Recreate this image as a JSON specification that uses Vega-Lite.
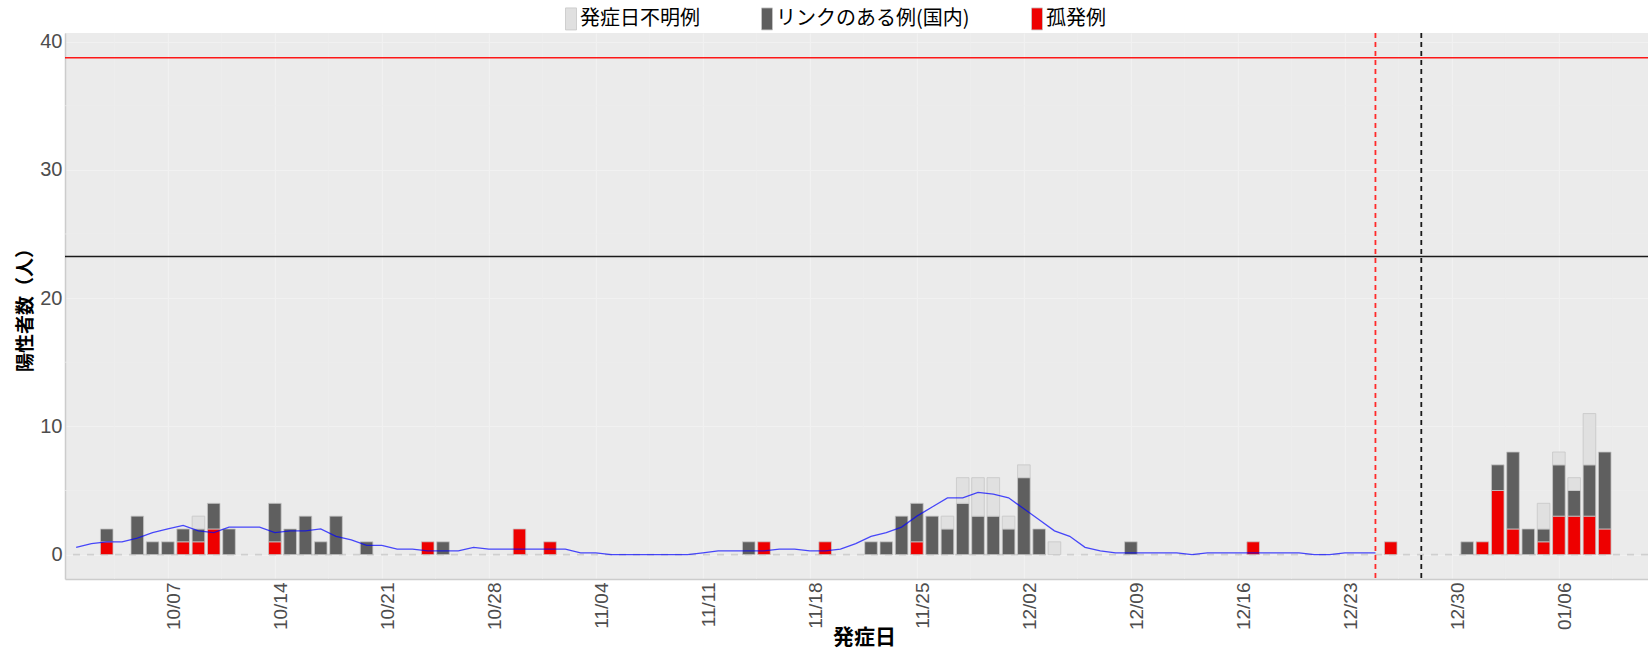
{
  "$schema": "https://vega.github.io/schema/vega-lite/v6.json",
  "width": 1583,
  "height": 546,
  "autosize": {"type": "none"},
  "padding": {"left": 65, "top": 33, "right": 0, "bottom": 70},
  "background": "white",
  "config": {
    "view": {"fill": "#ebebeb", "stroke": null},
    "axis": {
      "labelFont": "Liberation Sans",
      "labelColor": "#4d4d4d",
      "titleFont": "Noto Sans CJK JP",
      "titleColor": "#000000",
      "titleFontWeight": "bold",
      "domainColor": "#cccccc",
      "domainWidth": 1.5,
      "ticks": false,
      "tickSize": 0,
      "gridColor": "#f1f1f1",
      "gridWidth": 1.1,
      "labelOverlap": false
    }
  },
  "datasets": {
    "bars": [
      {"d": "2020-10-03", "c": "孤発例", "n": 1, "o": 1},
      {"d": "2020-10-03", "c": "リンクのある例(国内)", "n": 1, "o": 2},
      {"d": "2020-10-05", "c": "リンクのある例(国内)", "n": 3, "o": 2},
      {"d": "2020-10-06", "c": "リンクのある例(国内)", "n": 1, "o": 2},
      {"d": "2020-10-07", "c": "リンクのある例(国内)", "n": 1, "o": 2},
      {"d": "2020-10-08", "c": "孤発例", "n": 1, "o": 1},
      {"d": "2020-10-08", "c": "リンクのある例(国内)", "n": 1, "o": 2},
      {"d": "2020-10-09", "c": "孤発例", "n": 1, "o": 1},
      {"d": "2020-10-09", "c": "リンクのある例(国内)", "n": 1, "o": 2},
      {"d": "2020-10-09", "c": "発症日不明例", "n": 1, "o": 3},
      {"d": "2020-10-10", "c": "孤発例", "n": 2, "o": 1},
      {"d": "2020-10-10", "c": "リンクのある例(国内)", "n": 2, "o": 2},
      {"d": "2020-10-11", "c": "リンクのある例(国内)", "n": 2, "o": 2},
      {"d": "2020-10-14", "c": "孤発例", "n": 1, "o": 1},
      {"d": "2020-10-14", "c": "リンクのある例(国内)", "n": 3, "o": 2},
      {"d": "2020-10-15", "c": "リンクのある例(国内)", "n": 2, "o": 2},
      {"d": "2020-10-16", "c": "リンクのある例(国内)", "n": 3, "o": 2},
      {"d": "2020-10-17", "c": "リンクのある例(国内)", "n": 1, "o": 2},
      {"d": "2020-10-18", "c": "リンクのある例(国内)", "n": 3, "o": 2},
      {"d": "2020-10-20", "c": "リンクのある例(国内)", "n": 1, "o": 2},
      {"d": "2020-10-24", "c": "孤発例", "n": 1, "o": 1},
      {"d": "2020-10-25", "c": "リンクのある例(国内)", "n": 1, "o": 2},
      {"d": "2020-10-30", "c": "孤発例", "n": 2, "o": 1},
      {"d": "2020-11-01", "c": "孤発例", "n": 1, "o": 1},
      {"d": "2020-11-14", "c": "リンクのある例(国内)", "n": 1, "o": 2},
      {"d": "2020-11-15", "c": "孤発例", "n": 1, "o": 1},
      {"d": "2020-11-19", "c": "孤発例", "n": 1, "o": 1},
      {"d": "2020-11-22", "c": "リンクのある例(国内)", "n": 1, "o": 2},
      {"d": "2020-11-23", "c": "リンクのある例(国内)", "n": 1, "o": 2},
      {"d": "2020-11-24", "c": "リンクのある例(国内)", "n": 3, "o": 2},
      {"d": "2020-11-25", "c": "孤発例", "n": 1, "o": 1},
      {"d": "2020-11-25", "c": "リンクのある例(国内)", "n": 3, "o": 2},
      {"d": "2020-11-26", "c": "リンクのある例(国内)", "n": 3, "o": 2},
      {"d": "2020-11-27", "c": "リンクのある例(国内)", "n": 2, "o": 2},
      {"d": "2020-11-27", "c": "発症日不明例", "n": 1, "o": 3},
      {"d": "2020-11-28", "c": "リンクのある例(国内)", "n": 4, "o": 2},
      {"d": "2020-11-28", "c": "発症日不明例", "n": 2, "o": 3},
      {"d": "2020-11-29", "c": "リンクのある例(国内)", "n": 3, "o": 2},
      {"d": "2020-11-29", "c": "発症日不明例", "n": 3, "o": 3},
      {"d": "2020-11-30", "c": "リンクのある例(国内)", "n": 3, "o": 2},
      {"d": "2020-11-30", "c": "発症日不明例", "n": 3, "o": 3},
      {"d": "2020-12-01", "c": "リンクのある例(国内)", "n": 2, "o": 2},
      {"d": "2020-12-01", "c": "発症日不明例", "n": 1, "o": 3},
      {"d": "2020-12-02", "c": "リンクのある例(国内)", "n": 6, "o": 2},
      {"d": "2020-12-02", "c": "発症日不明例", "n": 1, "o": 3},
      {"d": "2020-12-03", "c": "リンクのある例(国内)", "n": 2, "o": 2},
      {"d": "2020-12-04", "c": "発症日不明例", "n": 1, "o": 3},
      {"d": "2020-12-09", "c": "リンクのある例(国内)", "n": 1, "o": 2},
      {"d": "2020-12-17", "c": "孤発例", "n": 1, "o": 1},
      {"d": "2020-12-26", "c": "孤発例", "n": 1, "o": 1},
      {"d": "2020-12-31", "c": "リンクのある例(国内)", "n": 1, "o": 2},
      {"d": "2021-01-01", "c": "孤発例", "n": 1, "o": 1},
      {"d": "2021-01-02", "c": "孤発例", "n": 5, "o": 1},
      {"d": "2021-01-02", "c": "リンクのある例(国内)", "n": 2, "o": 2},
      {"d": "2021-01-03", "c": "孤発例", "n": 2, "o": 1},
      {"d": "2021-01-03", "c": "リンクのある例(国内)", "n": 6, "o": 2},
      {"d": "2021-01-04", "c": "リンクのある例(国内)", "n": 2, "o": 2},
      {"d": "2021-01-05", "c": "孤発例", "n": 1, "o": 1},
      {"d": "2021-01-05", "c": "リンクのある例(国内)", "n": 1, "o": 2},
      {"d": "2021-01-05", "c": "発症日不明例", "n": 2, "o": 3},
      {"d": "2021-01-06", "c": "孤発例", "n": 3, "o": 1},
      {"d": "2021-01-06", "c": "リンクのある例(国内)", "n": 4, "o": 2},
      {"d": "2021-01-06", "c": "発症日不明例", "n": 1, "o": 3},
      {"d": "2021-01-07", "c": "孤発例", "n": 3, "o": 1},
      {"d": "2021-01-07", "c": "リンクのある例(国内)", "n": 2, "o": 2},
      {"d": "2021-01-07", "c": "発症日不明例", "n": 1, "o": 3},
      {"d": "2021-01-08", "c": "孤発例", "n": 3, "o": 1},
      {"d": "2021-01-08", "c": "リンクのある例(国内)", "n": 4, "o": 2},
      {"d": "2021-01-08", "c": "発症日不明例", "n": 4, "o": 3},
      {"d": "2021-01-09", "c": "孤発例", "n": 2, "o": 1},
      {"d": "2021-01-09", "c": "リンクのある例(国内)", "n": 6, "o": 2}
    ],
    "avg": [
      {"d": "2020-10-01", "a": 0.571}, {"d": "2020-10-02", "a": 0.857}, {"d": "2020-10-03", "a": 1.0},
      {"d": "2020-10-04", "a": 1.0}, {"d": "2020-10-05", "a": 1.286}, {"d": "2020-10-06", "a": 1.714},
      {"d": "2020-10-07", "a": 2.0}, {"d": "2020-10-08", "a": 2.286}, {"d": "2020-10-09", "a": 1.857},
      {"d": "2020-10-10", "a": 1.714}, {"d": "2020-10-11", "a": 2.143}, {"d": "2020-10-12", "a": 2.143},
      {"d": "2020-10-13", "a": 2.143}, {"d": "2020-10-14", "a": 1.714}, {"d": "2020-10-15", "a": 1.857},
      {"d": "2020-10-16", "a": 1.857}, {"d": "2020-10-17", "a": 2.0}, {"d": "2020-10-18", "a": 1.429},
      {"d": "2020-10-19", "a": 1.143}, {"d": "2020-10-20", "a": 0.714}, {"d": "2020-10-21", "a": 0.714},
      {"d": "2020-10-22", "a": 0.429}, {"d": "2020-10-23", "a": 0.429}, {"d": "2020-10-24", "a": 0.286},
      {"d": "2020-10-25", "a": 0.286}, {"d": "2020-10-26", "a": 0.286}, {"d": "2020-10-27", "a": 0.571},
      {"d": "2020-10-28", "a": 0.429}, {"d": "2020-10-29", "a": 0.429}, {"d": "2020-10-30", "a": 0.429},
      {"d": "2020-10-31", "a": 0.429}, {"d": "2020-11-01", "a": 0.429}, {"d": "2020-11-02", "a": 0.429},
      {"d": "2020-11-03", "a": 0.143}, {"d": "2020-11-04", "a": 0.143}, {"d": "2020-11-05", "a": 0},
      {"d": "2020-11-06", "a": 0}, {"d": "2020-11-07", "a": 0}, {"d": "2020-11-08", "a": 0},
      {"d": "2020-11-09", "a": 0}, {"d": "2020-11-10", "a": 0}, {"d": "2020-11-11", "a": 0.143},
      {"d": "2020-11-12", "a": 0.286}, {"d": "2020-11-13", "a": 0.286}, {"d": "2020-11-14", "a": 0.286},
      {"d": "2020-11-15", "a": 0.286}, {"d": "2020-11-16", "a": 0.429}, {"d": "2020-11-17", "a": 0.429},
      {"d": "2020-11-18", "a": 0.286}, {"d": "2020-11-19", "a": 0.286}, {"d": "2020-11-20", "a": 0.429},
      {"d": "2020-11-21", "a": 0.857}, {"d": "2020-11-22", "a": 1.429}, {"d": "2020-11-23", "a": 1.714},
      {"d": "2020-11-24", "a": 2.143}, {"d": "2020-11-25", "a": 3.0}, {"d": "2020-11-26", "a": 3.714},
      {"d": "2020-11-27", "a": 4.429}, {"d": "2020-11-28", "a": 4.429}, {"d": "2020-11-29", "a": 4.857},
      {"d": "2020-11-30", "a": 4.714}, {"d": "2020-12-01", "a": 4.429}, {"d": "2020-12-02", "a": 3.571},
      {"d": "2020-12-03", "a": 2.714}, {"d": "2020-12-04", "a": 1.857}, {"d": "2020-12-05", "a": 1.429},
      {"d": "2020-12-06", "a": 0.571}, {"d": "2020-12-07", "a": 0.286}, {"d": "2020-12-08", "a": 0.143},
      {"d": "2020-12-09", "a": 0.143}, {"d": "2020-12-10", "a": 0.143}, {"d": "2020-12-11", "a": 0.143},
      {"d": "2020-12-12", "a": 0.143}, {"d": "2020-12-13", "a": 0}, {"d": "2020-12-14", "a": 0.143},
      {"d": "2020-12-15", "a": 0.143}, {"d": "2020-12-16", "a": 0.143}, {"d": "2020-12-17", "a": 0.143},
      {"d": "2020-12-18", "a": 0.143}, {"d": "2020-12-19", "a": 0.143}, {"d": "2020-12-20", "a": 0.143},
      {"d": "2020-12-21", "a": 0}, {"d": "2020-12-22", "a": 0}, {"d": "2020-12-23", "a": 0.143},
      {"d": "2020-12-24", "a": 0.143}, {"d": "2020-12-25", "a": 0.143}
    ],
    "minorX": [
      {"d": "2020-10-03T12:00:00Z"}, {"d": "2020-10-10T12:00:00Z"}, {"d": "2020-10-17T12:00:00Z"},
      {"d": "2020-10-24T12:00:00Z"}, {"d": "2020-10-31T12:00:00Z"}, {"d": "2020-11-07T12:00:00Z"},
      {"d": "2020-11-14T12:00:00Z"}, {"d": "2020-11-21T12:00:00Z"}, {"d": "2020-11-28T12:00:00Z"},
      {"d": "2020-12-05T12:00:00Z"}, {"d": "2020-12-12T12:00:00Z"}, {"d": "2020-12-19T12:00:00Z"},
      {"d": "2020-12-26T12:00:00Z"}, {"d": "2021-01-02T12:00:00Z"}, {"d": "2021-01-09T12:00:00Z"}
    ],
    "minorY": [{"v": 5}, {"v": 15}, {"v": 25}, {"v": 35}]
  },
  "layer": [
    {
      "data": {"name": "minorX"},
      "mark": {"type": "rule", "color": "#eeeeee", "strokeWidth": 0.7},
      "encoding": {
        "x": {
          "field": "d", "type": "temporal",
          "scale": {"type": "utc", "domain": [{"year": 2020, "month": 9, "date": 30, "hours": 14, "minutes": 20, "utc": true}, {"year": 2021, "month": 1, "date": 11, "hours": 12, "minutes": 5, "utc": true}]},
          "axis": {
            "title": "発症日",
            "values": [
              {"year": 2020, "month": 10, "date": 7, "utc": true},
              {"year": 2020, "month": 10, "date": 14, "utc": true},
              {"year": 2020, "month": 10, "date": 21, "utc": true},
              {"year": 2020, "month": 10, "date": 28, "utc": true},
              {"year": 2020, "month": 11, "date": 4, "utc": true},
              {"year": 2020, "month": 11, "date": 11, "utc": true},
              {"year": 2020, "month": 11, "date": 18, "utc": true},
              {"year": 2020, "month": 11, "date": 25, "utc": true},
              {"year": 2020, "month": 12, "date": 2, "utc": true},
              {"year": 2020, "month": 12, "date": 9, "utc": true},
              {"year": 2020, "month": 12, "date": 16, "utc": true},
              {"year": 2020, "month": 12, "date": 23, "utc": true},
              {"year": 2020, "month": 12, "date": 30, "utc": true},
              {"year": 2021, "month": 1, "date": 6, "utc": true}
            ],
            "format": "%m/%d",
            "labelAngle": -90,
            "labelAlign": "right",
            "labelBaseline": "middle",
            "labelFontSize": 19,
            "labelPadding": 3,
            "labelOffset": 6,
            "titleFontSize": 21,
            "titleX": 799,
            "titleY": 58,
            "titleAlign": "center",
            "titleBaseline": "middle",
            "grid": true
          }
        }
      }
    },
    {
      "data": {"name": "minorY"},
      "mark": {"type": "rule", "color": "#eeeeee", "strokeWidth": 0.7},
      "encoding": {
        "y": {
          "field": "v", "type": "quantitative",
          "scale": {"domain": [-1.9, 40.67], "nice": false, "zero": false},
          "axis": {
            "title": "陽性者数（人）",
            "values": [0, 10, 20, 30, 40],
            "labelFontSize": 20,
            "labelPadding": 3,
            "titleFontSize": 19,
            "titleX": -40,
            "titleY": 272,
            "titleAngle": -90,
            "titleAlign": "center",
            "titleBaseline": "middle",
            "grid": true
          }
        }
      }
    },
    {
      "data": {"values": [{"v": 0}]},
      "mark": {"type": "rule", "color": "#cfcfcf", "strokeWidth": 1.7, "strokeDash": [7, 7]},
      "encoding": {
        "y": {"field": "v", "type": "quantitative"}
      }
    },
    {
      "data": {"name": "bars"},
      "mark": {"type": "bar", "size": 12.6, "stroke": "#c6c6c6", "strokeWidth": 0.8},
      "encoding": {
        "x": {"field": "d", "type": "temporal"},
        "y": {"field": "n", "type": "quantitative", "stack": "zero"},
        "color": {
          "field": "c", "type": "nominal",
          "scale": {"domain": ["発症日不明例", "リンクのある例(国内)", "孤発例"], "range": ["#e0e0e0", "#5f5f5f", "#ee0000"]},
          "legend": {
            "title": null,
            "orient": "none",
            "legendX": 489,
            "legendY": -26,
            "direction": "horizontal",
            "symbolType": "M0,-1H1V1H0Z",
            "symbolSize": 484,
            "symbolStrokeColor": "#c6c6c6",
            "symbolStrokeWidth": 0.8,
            "symbolOpacity": 1,
            "labelFont": "Noto Sans CJK JP",
            "labelFontSize": 20,
            "labelColor": "#000000",
            "labelOffset": 3,
            "labelLimit": 500,
            "columnPadding": 50,
            "padding": 0
          }
        },
        "order": {"field": "o", "type": "quantitative"}
      }
    },
    {
      "data": {"name": "avg"},
      "mark": {"type": "line", "color": "#0000ff", "opacity": 0.7, "strokeWidth": 1.3},
      "encoding": {
        "x": {"field": "d", "type": "temporal"},
        "y": {"field": "a", "type": "quantitative"}
      }
    },
    {
      "data": {"values": [{"v": 38.75}]},
      "mark": {"type": "rule", "color": "#ff0000", "opacity": 0.9, "strokeWidth": 1.5},
      "encoding": {
        "y": {"field": "v", "type": "quantitative"}
      }
    },
    {
      "data": {"values": [{"v": 23.25}]},
      "mark": {"type": "rule", "color": "#1a1a1a", "strokeWidth": 1.5},
      "encoding": {
        "y": {"field": "v", "type": "quantitative"}
      }
    },
    {
      "data": {"values": [{"d": "2020-12-25"}]},
      "mark": {"type": "rule", "color": "#ff2a2a", "strokeWidth": 1.8, "strokeDash": [5, 4]},
      "encoding": {
        "x": {"field": "d", "type": "temporal"}
      }
    },
    {
      "data": {"values": [{"d": "2020-12-28"}]},
      "mark": {"type": "rule", "color": "#1a1a1a", "strokeWidth": 1.8, "strokeDash": [5, 4]},
      "encoding": {
        "x": {"field": "d", "type": "temporal"}
      }
    }
  ]
}
